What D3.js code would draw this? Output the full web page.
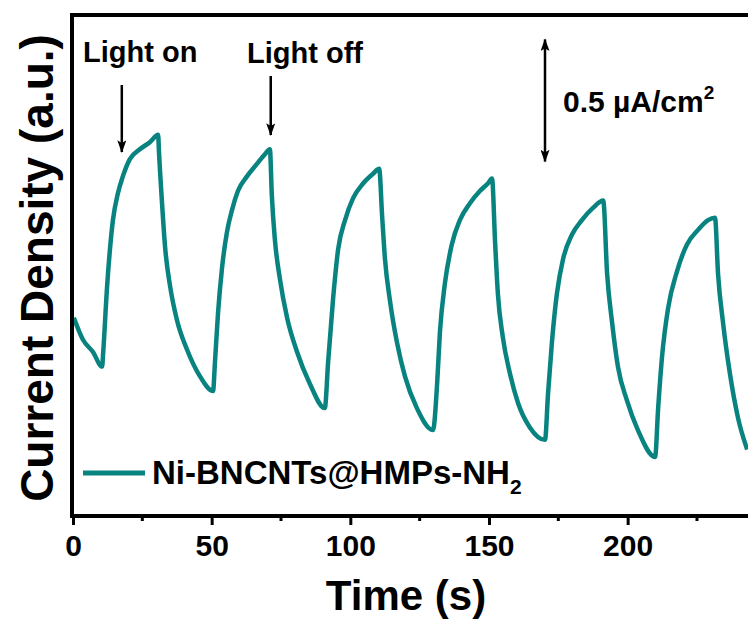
<!DOCTYPE html>
<html>
<head>
<meta charset="utf-8">
<script src="https://cdn.jsdelivr.net/npm/d3@7/dist/d3.min.js"></script>
<style>
  body { margin: 0; background: #fff; }
  svg text { font-family: "Liberation Sans", Arial, sans-serif; font-weight: bold; fill: #000; }
</style>
</head>
<body>
<div class="visContainer"></div>
<script>
// Data (time in s, current in uA/cm2, relative).
const time = [0.3, 3.6, 7.2, 10.5,
  10.9, 12.3, 13.4, 14.4, 16.2, 18.0, 20.5, 24.1, 27.8, 30.7,
  31.0, 32.1, 33.2, 35.0, 37.5, 41.1, 45.8, 50.5,
  51.2, 52.3, 53.7, 55.5, 57.3, 59.5, 62.8, 66.3, 69.2, 71.0,
  71.7, 72.8, 74.6, 77.2, 80.8, 85.4, 90.8,
  92.0, 93.8, 95.6, 98.1, 101.0, 104.6, 108.2, 110.4,
  111.5, 112.5, 114.3, 116.8, 119.7, 124.0, 129.8,
  131.3, 132.3, 134.1, 136.6, 139.5, 143.2, 146.8, 149.6, 151.1,
  152.2, 153.2, 155.0, 157.6, 160.5, 164.8, 170.2,
  171.3, 172.7, 174.5, 176.7, 179.9, 183.5, 187.5, 191.2,
  192.6, 194.4, 196.5, 199.8, 203.7, 209.9,
  211.0, 212.4, 214.6, 217.8, 221.4, 225.4, 229.0, 231.5,
  232.6, 234.4, 236.9, 239.8, 243.1];
const current = [0.82, 0.73, 0.68, 0.62,
  0.68, 0.95, 1.11, 1.22, 1.33, 1.40, 1.47, 1.51, 1.54, 1.57,
  1.50, 1.29, 1.11, 0.95, 0.81, 0.69, 0.58, 0.52,
  0.64, 0.84, 1.02, 1.17, 1.26, 1.34, 1.40, 1.45, 1.49, 1.51,
  1.32, 1.14, 0.98, 0.82, 0.68, 0.55, 0.45,
  0.64, 0.90, 1.10, 1.22, 1.31, 1.37, 1.41, 1.43,
  1.23, 1.06, 0.89, 0.72, 0.58, 0.45, 0.36,
  0.55, 0.76, 0.96, 1.12, 1.22, 1.29, 1.34, 1.37, 1.39,
  1.13, 0.92, 0.74, 0.59, 0.47, 0.37, 0.32,
  0.51, 0.72, 0.92, 1.06, 1.16, 1.22, 1.27, 1.30,
  1.00, 0.80, 0.62, 0.48, 0.36, 0.25,
  0.45, 0.66, 0.86, 1.01, 1.12, 1.18, 1.22, 1.23,
  1.00, 0.80, 0.59, 0.41, 0.28];
const majorTicks = [0, 50, 100, 150, 200];
const minorTicks = [25, 75, 125, 175, 225];
const seriesName = 'Ni-BNCNTs@HMPs-NH';
const scaleBar = [1.46, 1.96];   // 0.5 uA/cm2 bar
const lightOnAt = 17.6, lightOffAt = 71.3;

// SVG constants.
const width = 748;
const height = 624;
const plotLeft = 73, plotRight = 748, plotTop = 15, plotBottom = 518, axisY = 516;
const lineColor = '#088380';

const x = d3.scaleLinear().domain([0, 243.4]).range([plotLeft, plotRight]);
const y = d3.scaleLinear().domain([0, 2.06]).range([plotBottom, plotTop]);

const svg = d3.select('.visContainer')
              .append('svg')
              .attr('width', width)
              .attr('height', height);

// Arrow heads.
const defs = svg.append('defs');
defs.append('marker')
    .attr('id', 'head')
    .attr('viewBox', '0 0 14 10')
    .attr('refX', 13).attr('refY', 5)
    .attr('markerUnits', 'userSpaceOnUse')
    .attr('markerWidth', 14).attr('markerHeight', 9)
    .attr('orient', 'auto-start-reverse')
    .append('path')
    .attr('d', 'M0,0 L14,5 L0,10 L3,5 Z')
    .attr('fill', '#000');
defs.append('clipPath').attr('id', 'plot')
    .append('rect')
    .attr('x', plotLeft).attr('y', plotTop)
    .attr('width', plotRight - plotLeft).attr('height', axisY - plotTop);

// Curve.
const pts = time.map((t, i) => [t, current[i]]);
const line = d3.line()
               .x(d => x(d[0]))
               .y(d => y(d[1]))
               .curve(d3.curveMonotoneX);
svg.append('path')
   .datum(pts)
   .attr('clip-path', 'url(#plot)')
   .attr('d', line)
   .attr('fill', 'none')
   .attr('stroke', lineColor)
   .attr('stroke-width', 4.5)
   .attr('stroke-linejoin', 'round');

// Frame: left and top lines.
svg.append('line')
   .attr('x1', plotLeft - 1).attr('x2', plotLeft - 1)
   .attr('y1', plotTop).attr('y2', axisY)
   .attr('stroke', '#000').attr('stroke-width', 4);
svg.append('line')
   .attr('x1', plotLeft - 3).attr('x2', plotRight)
   .attr('y1', plotTop).attr('y2', plotTop)
   .attr('stroke', '#000').attr('stroke-width', 4);

// X axis.
const xAxis = d3.axisBottom(x)
                .tickValues(majorTicks)
                .tickSize(9)
                .tickPadding(10)
                .tickSizeOuter(0);
const gx = svg.append('g')
              .attr('transform', 'translate(0,' + axisY + ')')
              .call(xAxis);
gx.select('.domain').attr('stroke-width', 4).attr('d', 'M' + (plotLeft - 3) + ',0H' + plotRight);
gx.selectAll('.tick line').attr('stroke-width', 3);
gx.selectAll('.tick text')
  .attr('font-size', 30)
  .attr('font-family', '"Liberation Sans", Arial, sans-serif')
  .attr('font-weight', 'bold');
gx.selectAll('.minor')
  .data(minorTicks)
  .enter()
  .append('line')
  .attr('class', 'minor')
  .attr('x1', d => x(d)).attr('x2', d => x(d))
  .attr('y1', 0).attr('y2', 5)
  .attr('stroke', '#000').attr('stroke-width', 3);

// Axis titles.
svg.append('text')
   .attr('x', 406).attr('y', 610)
   .attr('text-anchor', 'middle')
   .attr('font-size', 42)
   .text('Time (s)');
svg.append('text')
   .attr('transform', 'translate(53,268) rotate(-90)')
   .attr('text-anchor', 'middle')
   .attr('font-size', 46)
   .text('Current Density (a.u.)');

// Light on / off annotations.
svg.append('text').attr('x', 83).attr('y', 62).attr('font-size', 29).text('Light on');
svg.append('text').attr('x', 247).attr('y', 63).attr('font-size', 29).text('Light off');
[[lightOnAt, 85, 152], [lightOffAt, 76, 135]].forEach(a => {
  svg.append('line')
     .attr('x1', x(a[0])).attr('x2', x(a[0]))
     .attr('y1', a[1]).attr('y2', a[2])
     .attr('stroke', '#000').attr('stroke-width', 2.5)
     .attr('marker-end', 'url(#head)');
});

// Scale bar.
svg.append('line')
   .attr('x1', 545).attr('x2', 545)
   .attr('y1', y(scaleBar[0])).attr('y2', y(scaleBar[1]))
   .attr('stroke', '#000').attr('stroke-width', 2.5)
   .attr('marker-start', 'url(#head)')
   .attr('marker-end', 'url(#head)');
const sb = svg.append('text').attr('x', 563).attr('y', 112).attr('font-size', 30);
sb.append('tspan').text('0.5 \u00b5A/cm');
sb.append('tspan').attr('font-size', 19).attr('dy', -13).text('2');

// Legend.
svg.append('line')
   .attr('x1', 83).attr('x2', 145)
   .attr('y1', 473).attr('y2', 473)
   .attr('stroke', lineColor).attr('stroke-width', 5);
const lg = svg.append('text').attr('x', 152).attr('y', 484).attr('font-size', 33);
lg.append('tspan').text(seriesName);
lg.append('tspan').attr('font-size', 21).attr('dy', 10).text('2');
</script>
</body>
</html>
